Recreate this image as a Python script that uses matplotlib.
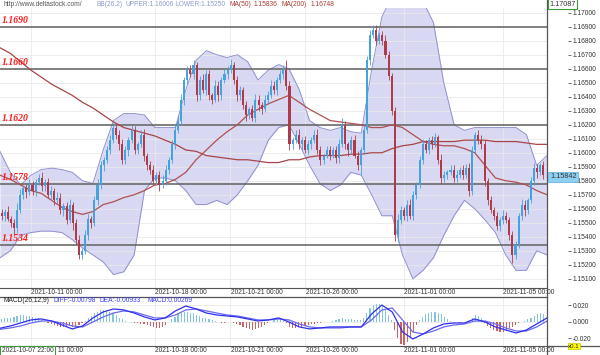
import numpy as np
import matplotlib
matplotlib.use('Agg')
import matplotlib.pyplot as plt
from matplotlib.ticker import FormatStrFormatter
from matplotlib.lines import Line2D

plt.rcParams['font.family'] = ['Liberation Sans', 'DejaVu Sans']
plt.rcParams['axes.unicode_minus'] = False

W, H = 600, 355
N_BARS = 530          # hourly bars from 2021-10-07 22:00
PX_PER_BAR = 547 / N_BARS

# date labels (bar index of each label)
date_bars = [30, 150, 223, 296, 391, 487]
date_labels = ['2021-10-11 00:00', '2021-10-18 00:00', '2021-10-21 00:00',
               '2021-10-26 00:00', '2021-11-01 00:00', '2021-11-05 00:00']

# support / resistance levels
levels = [1.1690, 1.1660, 1.1620, 1.1578, 1.1534]

# candles, one per 3 bars
candle_step = 3
first_open = 1.1557
closes = [1.1555, 1.1558, 1.1553, 1.1550, 1.1546, 1.1559, 1.1570, 1.1575, 1.1572, 1.1577,
          1.1573, 1.1579, 1.1582, 1.1576, 1.1579, 1.1570, 1.1573, 1.1566, 1.1568, 1.1559,
          1.1562, 1.1552, 1.1563, 1.1550, 1.1538, 1.1527, 1.1530, 1.1541, 1.1553, 1.1550,
          1.1566, 1.1577, 1.1591, 1.1595, 1.1602, 1.1609, 1.1618, 1.1613, 1.1606, 1.1595,
          1.1602, 1.1609, 1.1616, 1.1602, 1.1606, 1.1613, 1.1598, 1.1591, 1.1588, 1.1580,
          1.1584, 1.1577, 1.1580, 1.1588, 1.1595, 1.1606, 1.1616, 1.1623, 1.1638, 1.1652,
          1.1659, 1.1656, 1.1663, 1.1641, 1.1652, 1.1645, 1.1656, 1.1641, 1.1638, 1.1648,
          1.1641, 1.1652, 1.1656, 1.1659, 1.1663, 1.1652, 1.1641, 1.1645, 1.1634, 1.1627,
          1.1631, 1.1625, 1.1638, 1.1634, 1.1631, 1.1638, 1.1641, 1.1648, 1.1645, 1.1652,
          1.1656, 1.1659, 1.1648, 1.1606, 1.1609, 1.1613, 1.1606, 1.1609, 1.1602, 1.1606,
          1.1609, 1.1613, 1.1602, 1.1595, 1.1598, 1.1602, 1.1598, 1.1602, 1.1596, 1.1606,
          1.1620, 1.1606, 1.1602, 1.1609, 1.1598, 1.1591, 1.1602, 1.1616, 1.1666, 1.1684,
          1.1688, 1.1680, 1.1684, 1.1680, 1.1670, 1.1655, 1.1630, 1.1541, 1.1552, 1.1559,
          1.1555, 1.1563, 1.1555, 1.1570, 1.1577, 1.1595, 1.1606, 1.1602, 1.1609, 1.1606,
          1.1611, 1.1595, 1.1582, 1.1584, 1.1586, 1.1588, 1.1582, 1.1584, 1.1588, 1.1584,
          1.1589, 1.1573, 1.1602, 1.1613, 1.1609, 1.1606, 1.1580, 1.1566, 1.1559, 1.1555,
          1.1548, 1.1552, 1.1555, 1.1552, 1.1541, 1.1527, 1.1534, 1.1555, 1.1563, 1.1559,
          1.1566, 1.1580, 1.1589, 1.1586, 1.1591, 1.1584]
# wick lengths in pips
wick_up = [3, 2, 4, 2, 3, 5, 4, 2, 3, 4, 3, 2, 3, 4, 2, 3, 3, 2, 4, 3,
           2, 3, 4, 2, 3, 3, 2, 4, 3, 2, 3, 4, 3, 2, 3, 4, 3, 2, 3, 4,
           3, 2, 4, 3, 2, 3, 4, 2, 3, 3, 2, 3, 4, 3, 2, 3, 4, 3, 4, 2,
           3, 4, 3, 2, 3, 4, 3, 3, 2, 4, 3, 2, 4, 3, 4, 2, 3, 3, 2, 3,
           2, 3, 4, 3, 2, 3, 3, 4, 3, 2, 3, 4, 7, 3, 2, 3, 4, 2, 3, 3,
           2, 3, 4, 3, 2, 3, 3, 2, 3, 4, 5, 3, 2, 3, 4, 3, 2, 4, 3, 4,
           3, 3, 2, 3, 4, 3, 2, 3, 4, 3, 2, 3, 4, 3, 2, 3, 4, 3, 2, 3,
           3, 2, 4, 3, 2, 3, 3, 4, 2, 3, 3, 4, 3, 2, 3, 4, 3, 2, 3, 2,
           3, 2, 4, 3, 2, 3, 3, 2, 4, 3, 2, 3, 4, 3, 2, 3]
wick_dn = [3, 4, 2, 3, 5, 3, 2, 3, 4, 2, 3, 4, 2, 3, 3, 2, 4, 3, 2, 3,
           4, 3, 2, 5, 4, 3, 3, 2, 3, 4, 2, 3, 3, 4, 2, 3, 2, 3, 4, 3,
           3, 4, 2, 3, 3, 2, 4, 3, 3, 2, 3, 4, 2, 3, 3, 2, 3, 2, 3, 4,
           3, 2, 3, 4, 3, 2, 4, 3, 3, 2, 4, 3, 2, 3, 2, 3, 4, 3, 3, 4,
           3, 2, 3, 4, 3, 2, 3, 2, 3, 4, 2, 3, 3, 4, 3, 2, 3, 4, 2, 3,
           3, 2, 3, 4, 3, 2, 3, 2, 3, 3, 2, 3, 4, 3, 2, 3, 7, 3, 2, 3,
           2, 3, 2, 3, 2, 3, 3, 4, 5, 3, 3, 4, 2, 3, 3, 2, 3, 2, 3, 3,
           2, 3, 4, 3, 3, 2, 3, 3, 2, 3, 2, 4, 3, 2, 3, 3, 4, 3, 2, 3,
           3, 4, 3, 2, 3, 6, 3, 2, 3, 4, 3, 2, 3, 4, 2, 3]
# MACD histogram, one per candle
hist = [0.003, 0.004, 0.004, 0.005, 0.006, 0.007, 0.008, 0.008, 0.007, 0.007,
        0.006, 0.005, 0.004, 0.002, 0.000, -0.002, -0.003, -0.004, -0.005, -0.006,
        -0.006, -0.006, -0.005, -0.006, -0.006, -0.004, -0.002, 0.001, 0.004, 0.007,
        0.010, 0.012, 0.014, 0.014, 0.013, 0.012, 0.010, 0.008, 0.005, 0.003,
        0.001, 0.000, -0.001, -0.002, -0.002, -0.003, -0.003, -0.004, -0.005, -0.006,
        -0.008, -0.008, -0.007, -0.004, -0.001, 0.003, 0.006, 0.009, 0.011, 0.012,
        0.012, 0.011, 0.010, 0.008, 0.007, 0.005, 0.004, 0.003, 0.002, 0.001,
        -0.001, -0.002, -0.002, -0.001, -0.001, -0.002, -0.003, -0.004, -0.006, -0.008,
        -0.009, -0.010, -0.009, -0.008, -0.006, -0.004, -0.002, 0.000, 0.002, 0.003,
        0.002, 0.001, -0.002, -0.006, -0.008, -0.008, -0.007, -0.006, -0.005, -0.004,
        -0.003, -0.003, -0.002, -0.002, -0.001, -0.001, 0.000, 0.001, 0.002, 0.003,
        0.004, 0.003, 0.003, 0.003, 0.002, 0.002, 0.002, 0.004, 0.010, 0.016,
        0.020, 0.022, 0.021, 0.019, 0.014, 0.008, 0.002, -0.010, -0.020, -0.027,
        -0.028, -0.025, -0.018, -0.012, -0.004, 0.002, 0.006, 0.009, 0.011, 0.012,
        0.012, 0.011, 0.009, 0.006, 0.003, 0.001, -0.001, -0.001, -0.002, -0.001,
        -0.001, 0.001, 0.005, 0.008, 0.007, 0.004, -0.002, -0.005, -0.008, -0.010,
        -0.011, -0.012, -0.012, -0.010, -0.008, -0.006, -0.004, -0.002, -0.001, 0.001,
        0.003, 0.005, 0.007, 0.009, 0.010, 0.009]

# indicators sampled every 10 bars
ind_step = 10
bb_upper = [1.1601, 1.1586, 1.1577, 1.1584, 1.1588, 1.1589, 1.1588, 1.1586, 1.1580, 1.1578,
            1.1602, 1.1623, 1.1628, 1.1628, 1.1627, 1.1618, 1.1618, 1.1618, 1.1645, 1.1666,
            1.1673, 1.1670, 1.1668, 1.1670, 1.1665, 1.1652, 1.1659, 1.1663, 1.1660, 1.1645,
            1.1623, 1.1618, 1.1616, 1.1618, 1.1615, 1.1614, 1.1659, 1.1697, 1.1712, 1.1718,
            1.1716, 1.1708, 1.1693, 1.1650, 1.1620, 1.1616, 1.1618, 1.1618, 1.1618, 1.1618,
            1.1618, 1.1613, 1.1591, 1.1598]
bb_lower = [1.1525, 1.1530, 1.1541, 1.1543, 1.1544, 1.1544, 1.1543, 1.1538, 1.1532, 1.1527,
            1.1522, 1.1513, 1.1515, 1.1527, 1.1573, 1.1582, 1.1582, 1.1580, 1.1573, 1.1563,
            1.1563, 1.1566, 1.1563, 1.1570, 1.1580, 1.1591, 1.1609, 1.1618, 1.1620, 1.1606,
            1.1591, 1.1578, 1.1573, 1.1577, 1.1586, 1.1584, 1.1570, 1.1555, 1.1555, 1.1527,
            1.1510, 1.1516, 1.1525, 1.1541, 1.1555, 1.1566, 1.1560, 1.1552, 1.1543, 1.1527,
            1.1516, 1.1516, 1.1530, 1.1527]
ma50 = [1.1584, 1.1581, 1.1577, 1.1573, 1.1571, 1.1566, 1.1561, 1.1558, 1.1556, 1.1558,
        1.1563, 1.1565, 1.1568, 1.1570, 1.1573, 1.1577, 1.1578, 1.1581, 1.1586, 1.1595,
        1.1602, 1.1609, 1.1615, 1.1620, 1.1627, 1.1631, 1.1635, 1.1638, 1.1641, 1.1636,
        1.1631, 1.1627, 1.1623, 1.1622, 1.1621, 1.1620, 1.1618, 1.1618, 1.1620, 1.1618,
        1.1613, 1.1608, 1.1606, 1.1605, 1.1605, 1.1603, 1.1600, 1.1591, 1.1582, 1.1580,
        1.1579, 1.1577, 1.1573, 1.1570]
ma200 = [1.1675, 1.1671, 1.1665, 1.1659, 1.1654, 1.1649, 1.1645, 1.1641, 1.1636, 1.1632,
         1.1627, 1.1622, 1.1618, 1.1616, 1.1614, 1.1612, 1.1609, 1.1606, 1.1602, 1.1601,
         1.1598, 1.1597, 1.1596, 1.1595, 1.1595, 1.1594, 1.1593, 1.1593, 1.1595, 1.1595,
         1.1597, 1.1598, 1.1598, 1.1598, 1.1599, 1.1599, 1.1600, 1.1600, 1.1603, 1.1605,
         1.1606, 1.1608, 1.1608, 1.1608, 1.1608, 1.1609, 1.1609, 1.1609, 1.1608, 1.1608,
         1.1608, 1.1607, 1.1606, 1.1606]
diff = [-0.0080, -0.0052, -0.0016, 0.0021, 0.0033, 0.0008, -0.0040, -0.0088, -0.0052, 0.0045,
        0.0118, 0.0154, 0.0142, 0.0105, 0.0057, 0.0021, 0.0045, 0.0130, 0.0190, 0.0154,
        0.0105, 0.0081, 0.0069, 0.0057, 0.0033, 0.0008, 0.0021, 0.0045, -0.0004, -0.0064,
        -0.0088, -0.0076, -0.0064, -0.0064, -0.0064, -0.0064, 0.0093, 0.0202, 0.0118, -0.0125,
        -0.0210, -0.0149, -0.0076, -0.0028, -0.0016, -0.0016, 0.0033, -0.0004, -0.0064, -0.0101,
        -0.0137, -0.0101, -0.0028, 0.0045]
dea = [-0.0093, -0.0076, -0.0052, -0.0016, 0.0008, 0.0008, -0.0016, -0.0052, -0.0064, -0.0004,
       0.0057, 0.0105, 0.0130, 0.0118, 0.0081, 0.0045, 0.0045, 0.0081, 0.0142, 0.0154,
       0.0130, 0.0105, 0.0081, 0.0069, 0.0045, 0.0021, 0.0021, 0.0033, 0.0021, -0.0028,
       -0.0064, -0.0076, -0.0076, -0.0076, -0.0064, -0.0064, 0.0021, 0.0142, 0.0166, 0.0021,
       -0.0125, -0.0149, -0.0113, -0.0064, -0.0040, -0.0028, 0.0008, 0.0008, -0.0028, -0.0076,
       -0.0113, -0.0113, -0.0064, 0.0008]

header = [('http://www.deltastock.com/', 3, '#555555'),
          ('BB(26,2)', 97, '#8c9bd0'), ('UPPER:1.16006', 126, '#8c9bd0'),
          ('LOWER:1.15250', 176, '#8c9bd0'), ('MA(50)', 229, '#a83c32'),
          ('1.15836', 254, '#a83c32'), ('MA(200)', 282, '#a83c32'),
          ('1.16748', 311, '#a83c32')]
macd_header = [('MACD(26,12,9)', 3, '#222222'), ('DIFF:-0.00798', 53, '#4040ee'),
               ('DEA:-0.00933', 100, '#4040ee'), ('MACD:0.00269', 147, '#4040ee')]

BLUE, RED = '#45a2dc', '#b03a4a'
FS = 4.8


def box(x0, y0, x1, y1):
    return [x0 / W, 1 - y1 / H, (x1 - x0) / W, (y1 - y0) / H]


fig = plt.figure(figsize=(W / 100, H / 100), dpi=100)
fig.patch.set_facecolor('white')

# ---------------- price panel
ax = fig.add_axes(box(0, 8, 547, 288))
ax.set_xlim(0, N_BARS)
ax.set_ylim(1.15034, 1.17034)
ax.set_xticks(date_bars)
ax.set_yticks(np.arange(1.151, 1.17001, 0.001))
ax.grid(True, color='#e9e9e9', lw=0.6, zorder=0)
ax.tick_params(axis='x', length=0, labelbottom=False)
ax.yaxis.tick_right()
ax.yaxis.set_major_formatter(FormatStrFormatter('%.5f'))
ax.tick_params(axis='y', direction='out', length=2.5, width=0.5, pad=0.8,
               labelsize=FS, colors='#333333')
ax.spines['right'].set_position(('outward', 15))
for s in ['right', 'top', 'left']:
    ax.spines[s].set_visible(False)
ax.spines['bottom'].set_color('#555555')

ind_x = np.arange(len(bb_upper)) * ind_step
ax.fill_between(ind_x, bb_lower, bb_upper, color='#d4d4f2', alpha=0.9, lw=0, zorder=1)
ax.plot(ind_x, bb_upper, color='#9090d0', lw=0.7, zorder=2)
ax.plot(ind_x, bb_lower, color='#9090d0', lw=0.7, zorder=2)

for lv in levels:
    ax.axhline(lv, color='#606060', lw=1.1, zorder=3)
    ax.annotate(f'{lv:.4f}', xy=(0.004, lv), xycoords=('axes fraction', 'data'),
                xytext=(0, 1.2), textcoords='offset points', va='bottom', ha='left',
                color='#ff1a1a', fontsize=7.0, fontweight='bold', fontstyle='italic',
                family='Liberation Serif', zorder=6)

ax.plot(ind_x, ma200, color='#a84545', lw=0.9, zorder=4)
ax.plot(ind_x, ma50, color='#b05050', lw=0.9, zorder=4)

opens = [first_open] + closes[:-1]
cx = np.arange(len(closes)) * candle_step + candle_step / 2
for x, o, c, wu, wd in zip(cx, opens, closes, wick_up, wick_dn):
    col = BLUE if c >= o else RED
    hi = max(o, c) + wu * 1e-4
    lo = min(o, c) - wd * 1e-4
    ax.vlines(x, lo, hi, color=col, lw=0.6, zorder=5)
    ax.bar(x, max(abs(c - o), 0.00004), bottom=min(o, c), width=2.0,
           color=col, lw=0, zorder=5)

# ---------------- MACD panel
mx = fig.add_axes(box(0, 297, 547, 346))
mx.set_xlim(0, N_BARS)
mx.set_ylim(-0.0295, 0.0299)
mx.set_xticks(date_bars)
mx.set_yticks([-0.02, 0.0, 0.02])
mx.grid(True, color='#e9e9e9', lw=0.6, zorder=0)
mx.tick_params(axis='x', length=0, labelbottom=False)
mx.yaxis.tick_right()
mx.yaxis.set_major_formatter(FormatStrFormatter('%.3f'))
mx.tick_params(axis='y', direction='out', length=2.5, width=0.5, pad=0.8,
               labelsize=FS, colors='#333333')
mx.spines['right'].set_position(('outward', 15))
for s in ['right', 'top', 'left']:
    mx.spines[s].set_visible(False)
mx.spines['bottom'].set_color('#555555')

hcol = ['#86c4e4' if v >= 0 else '#c86464' for v in hist]
mx.bar(cx, hist, width=1.1, color=hcol, lw=0, zorder=2)
mx.plot(ind_x, dea, color='#6a6af2', lw=0.9, zorder=3)
mx.plot(ind_x, diff, color='#2f2fe8', lw=0.9, zorder=3)

# ---------------- frames, strips and labels
def hline(y, x0=0, x1=W, color='#555555', lw=0.9):
    fig.add_artist(Line2D([x0 / W, x1 / W], [1 - y / H, 1 - y / H],
                          color=color, lw=lw))

hline(296.5, 0, 547)
hline(346, 547, W)
fig.add_artist(Line2D([547 / W, 547 / W], [0, 1], color='#555555', lw=0.9))

for k, (b, lab) in enumerate(zip(date_bars, date_labels)):
    x = b * PX_PER_BAR + 0.5
    fig.text(x / W, 1 - 292.5 / H, lab, fontsize=FS, color='#333333',
             ha='left', va='center')
    if k == 0:
        # first label in the lower strip is partly hidden by the start-time box
        fig.text((x + 27) / W, 1 - 350.8 / H, lab[8:], fontsize=FS, color='#333333',
                 ha='left', va='center')
    else:
        fig.text(x / W, 1 - 350.8 / H, lab, fontsize=FS, color='#333333',
                 ha='left', va='center')

fig.text(1.5 / W, 1 - 350.8 / H, '2021-10-07 22:00', fontsize=FS, color='#333333',
         ha='left', va='center', zorder=10,
         bbox=dict(boxstyle='square,pad=0.2', fc='white', ec='#3c9a3c', lw=0.8))

for txt, x, col in header:
    fig.text(x / W, 1 - 5 / H, txt, fontsize=FS, color=col, ha='left', va='center')
for txt, x, col in macd_header:
    fig.text(x / W, 1 - 301 / H, txt, fontsize=FS, color=col, ha='left', va='center')

fig.text(549.5 / W, 1 - 4 / H, '1.17087', fontsize=FS + 0.4, color='#333333',
         ha='left', va='center', zorder=10,
         bbox=dict(boxstyle='square,pad=0.2', fc='white', ec='#3c9a3c', lw=0.8))
fig.text(550 / W, 1 - 177 / H, f'{closes[-1] + 0.00002:.5f}', fontsize=FS + 0.4,
         color='#333333', ha='left', va='center', zorder=10,
         bbox=dict(boxstyle='square,pad=0.25', fc='#8fd0f2', ec='#6ab8e6', lw=0.6))
fig.text(568 / W, 1 - 346.2 / H, 'x0.1', fontsize=FS - 0.4, color='#222222',
         ha='left', va='center', zorder=10,
         bbox=dict(boxstyle='square,pad=0.08', fc='#ffff00', ec='#c8c800', lw=0.5))

fig.savefig('out.png', dpi=100)
